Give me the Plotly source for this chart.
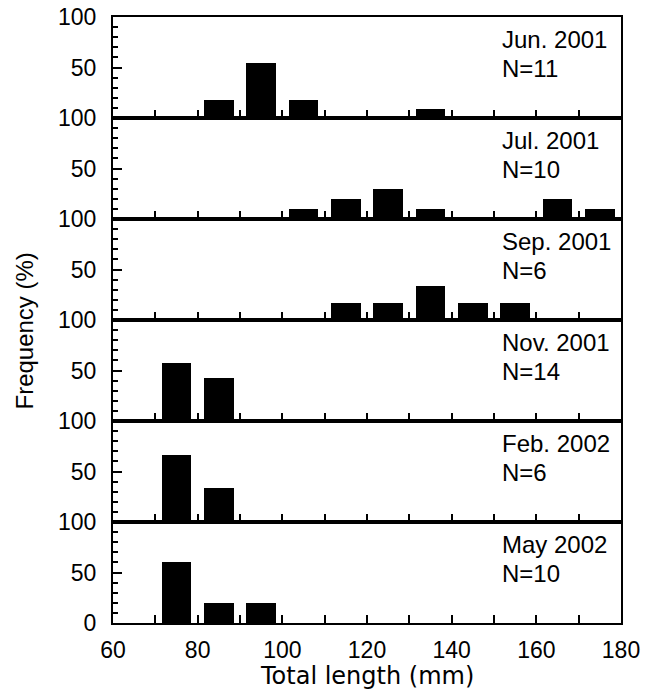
import plotly.graph_objects as go
from plotly.subplots import make_subplots

# Data
bin_centers = [75, 85, 95, 105, 115, 125, 135, 145, 155, 165, 175]
months = ["Jun. 2001", "Jul. 2001", "Sep. 2001", "Nov. 2001", "Feb. 2002", "May 2002"]
sample_sizes = [11, 10, 6, 14, 6, 10]
jun_2001 = [0, 18.2, 54.5, 18.2, 0, 0, 9.1, 0, 0, 0, 0]
jul_2001 = [0, 0, 0, 10, 20, 30, 10, 0, 0, 20, 10]
sep_2001 = [0, 0, 0, 0, 16.7, 16.7, 33.3, 16.7, 16.7, 0, 0]
nov_2001 = [57.1, 42.9, 0, 0, 0, 0, 0, 0, 0, 0, 0]
feb_2002 = [66.7, 33.3, 0, 0, 0, 0, 0, 0, 0, 0, 0]
may_2002 = [60, 20, 20, 0, 0, 0, 0, 0, 0, 0, 0]
series = [jun_2001, jul_2001, sep_2001, nov_2001, feb_2002, may_2002]
x_tick_vals = [60, 80, 100, 120, 140, 160, 180]

n = len(series)
fig = make_subplots(rows=n, cols=1, shared_xaxes=True, vertical_spacing=0)

TICKFONT = dict(family="Liberation Sans, Arial, sans-serif", size=23, color="black")
LABELFONT = dict(family="Liberation Sans, Arial, sans-serif", size=24, color="black")

for i, vals in enumerate(series):
    r = i + 1
    fig.add_trace(go.Bar(x=bin_centers, y=vals, width=7, marker=dict(color="black", line=dict(width=0)),
                         showlegend=False, hoverinfo="skip"), row=r, col=1)
    last = (r == n)
    fig.update_xaxes(range=[60, 180], tickmode="array", tickvals=x_tick_vals,
                     ticks="inside", ticklen=8, tickwidth=1.5, tickcolor="black",
                     minor=dict(tickmode="linear", tick0=60, dtick=10, ticks="inside", ticklen=8,
                                tickwidth=1.5, tickcolor="black", showgrid=False),
                     showticklabels=last, tickfont=TICKFONT, ticklabelstandoff=5,
                     ticklabeloverflow="allow",
                     showline=True, linewidth=2, linecolor="black", mirror=True,
                     showgrid=False, zeroline=False, automargin=False, row=r, col=1)
    fig.update_yaxes(range=[0, 100], tickmode="array",
                     tickvals=[0, 50, 100] if last else [50, 100],
                     ticks="inside", ticklen=9, tickwidth=1.5, tickcolor="black",
                     minor=dict(tickmode="linear", tick0=0, dtick=10, ticks="inside", ticklen=5,
                                tickwidth=1.5, tickcolor="black", showgrid=False),
                     tickfont=TICKFONT, ticklabelstandoff=10, ticklabeloverflow="allow",
                     showline=True, linewidth=2, linecolor="black", mirror=True,
                     showgrid=False, zeroline=False, automargin=False, row=r, col=1)
    xname = "x" if r == 1 else f"x{r}"
    yname = "y" if r == 1 else f"y{r}"
    fig.add_annotation(text=months[i], xref=f"{xname} domain", yref=f"{yname} domain",
                       x=0.762, y=0.775, xanchor="left", yanchor="middle", align="left",
                       showarrow=False, font=LABELFONT)
    fig.add_annotation(text=f"N={sample_sizes[i]}", xref=f"{xname} domain", yref=f"{yname} domain",
                       x=0.762, y=0.495, xanchor="left", yanchor="middle", align="left",
                       showarrow=False, font=LABELFONT)

fig.add_annotation(text="Total length (mm)", xref="paper", yref="paper", x=0.5, y=-0.087,
                   xanchor="center", yanchor="middle", showarrow=False,
                   font=dict(family="DejaVu Sans, sans-serif", size=24, color="black"))
fig.add_annotation(text="Frequency (%)", xref="paper", yref="paper", x=-0.174, y=0.482,
                   xanchor="center", yanchor="middle", textangle=-90, showarrow=False,
                   font=LABELFONT)

fig.update_layout(width=658, height=693, margin=dict(l=113, r=37, t=17, b=70, autoexpand=False),
                  plot_bgcolor="white", paper_bgcolor="white", bargap=0)

# remove the browser's default 8px body margin so the figure fills the window exactly
fig.write_html("out.html", config={"displayModeBar": False},
               post_script="document.body.style.margin='0';")
